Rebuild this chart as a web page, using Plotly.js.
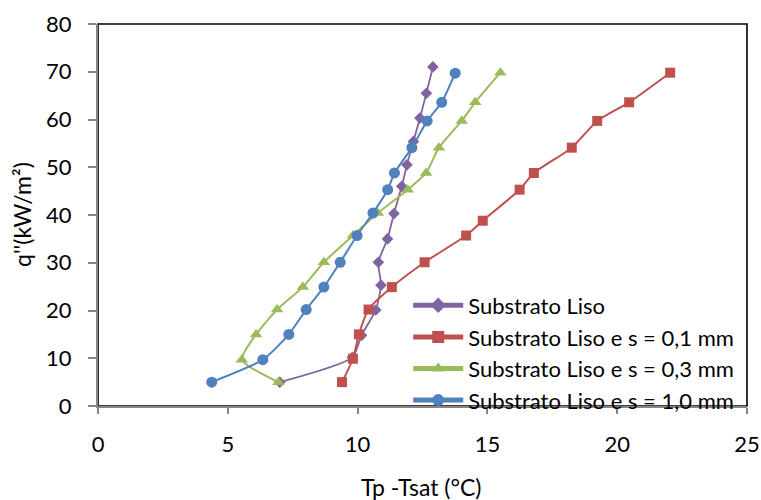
<!DOCTYPE html>
<html>
<head>
<meta charset="utf-8">
<script src="https://cdn.plot.ly/plotly-3.0.1.min.js"></script>
<style>html,body{margin:0;padding:0;background:#fff;}#chart{width:761px;height:500px;}</style>
</head>
<body>
<div id="chart"></div>
<script>
// Series names
const seriesNames = ["Substrato Liso", "Substrato Liso e s = 0,1 mm", "Substrato Liso e s = 0,3 mm", "Substrato Liso e s = 1,0 mm"];

// Substrato Liso
const lisoX = [7.0, 9.8, 10.15, 10.7, 10.9, 10.8, 11.15, 11.4, 11.7, 11.9, 12.15, 12.4, 12.65, 12.9];
const lisoY = [5.0, 10.2, 14.8, 20.1, 25.3, 30.1, 35.0, 40.3, 46.0, 50.5, 55.4, 60.3, 65.5, 71.0];

// s = 0,1 mm
const s01X = [9.4, 9.82, 10.05, 10.42, 11.32, 12.58, 14.18, 14.82, 16.24, 16.79, 18.25, 19.23, 20.46, 22.04];
const s01Y = [5.0, 9.9, 15.0, 20.2, 24.9, 30.1, 35.7, 38.8, 45.3, 48.8, 54.1, 59.7, 63.6, 69.8];

// s = 0,3 mm
const s03X = [6.95, 5.54, 6.09, 6.9, 7.89, 8.7, 9.82, 10.78, 11.93, 12.64, 13.13, 14.01, 14.53, 15.5];
const s03Y = [5.0, 9.7, 15.0, 20.2, 24.9, 30.1, 35.7, 40.4, 45.3, 48.8, 54.1, 59.7, 63.6, 69.8];

// s = 1,0 mm
const s10X = [4.38, 6.35, 7.35, 8.02, 8.7, 9.33, 9.98, 10.59, 11.16, 11.42, 12.09, 12.68, 13.24, 13.76];
const s10Y = [5.0, 9.7, 15.0, 20.2, 24.9, 30.1, 35.7, 40.4, 45.3, 48.8, 54.1, 59.7, 63.6, 69.7];

const xTicks = [0, 5, 10, 15, 20, 25];
const yTicks = [0, 10, 20, 30, 40, 50, 60, 70, 80];

const FONT = "Lato, 'Open Sans', sans-serif";

function mk(name, x, y, color, symbol, size, width, grp) {
  return {
    type: "scatter", mode: "lines+markers", name: name, x: x, y: y,
    legendgroup: grp,
    line: {color: color, width: width, shape: "spline", smoothing: 0.6},
    marker: {color: color, symbol: symbol, size: size}
  };
}

const data = [
  mk(seriesNames[0], lisoX, lisoY, "#8064A2", "diamond", 9, 1.8, "a"),
  mk(seriesNames[1], s01X, s01Y, "#C0504D", "square", 10, 2, "b"),
  mk(seriesNames[2], s03X, s03Y, "#9BBB59", "triangle-up", 11, 2, "c"),
  mk(seriesNames[3], s10X, s10Y, "#4F81BD", "circle", 11, 2, "d")
];

const layout = {
  width: 761, height: 500,
  margin: {l: 98, r: 14, t: 24, b: 94, pad: 0},
  paper_bgcolor: "#fff", plot_bgcolor: "#fff",
  font: {family: FONT, size: 22, color: "#000"},
  showlegend: true,
  legend: {
    x: 0.478, y: 0.318, xanchor: "left", yanchor: "top",
    bgcolor: "rgba(255,255,255,0)", borderwidth: 0,
    font: {family: FONT, size: 22, color: "#000"},
    traceorder: "grouped", tracegroupgap: 0, itemwidth: 50,
    itemsizing: "constant"
  },
  xaxis: {
    range: [0, 25], tickvals: xTicks, ticktext: xTicks.map(String),
    showgrid: false, zeroline: false, showline: true, linecolor: "#868686", linewidth: 2,
    ticks: "outside", ticklen: 6, tickcolor: "#868686", tickwidth: 2,
    ticklabelstandoff: 12, tickfont: {family: FONT, size: 22}
  },
  yaxis: {
    range: [0, 80], tickvals: yTicks, ticktext: yTicks.map(String),
    showgrid: false, zeroline: false, showline: true, linecolor: "#868686", linewidth: 2,
    ticks: "outside", ticklen: 8, tickcolor: "#868686", tickwidth: 2,
    ticklabelstandoff: 12, tickfont: {family: FONT, size: 22}
  },
  shapes: [
    {type: "rect", xref: "paper", yref: "paper", x0: 0, x1: 1, y0: 0, y1: 1,
     line: {color: "#000", width: 1.6}, layer: "below"}
  ],
  annotations: [
    {text: "Tp -Tsat (°C)", xref: "paper", yref: "paper", x: 0.498, y: 0, yshift: -81, yanchor: "middle", xanchor: "center",
     showarrow: false, font: {family: FONT, size: 23}},
    {text: "q''(kW/m²)", xref: "paper", yref: "paper", x: 0, xshift: -76, y: 0.5, textangle: -90,
     xanchor: "center", yanchor: "middle", showarrow: false, font: {family: FONT, size: 23}}
  ]
};

Plotly.newPlot("chart", data, layout, {staticPlot: true, displayModeBar: false});
</script>
</body>
</html>
